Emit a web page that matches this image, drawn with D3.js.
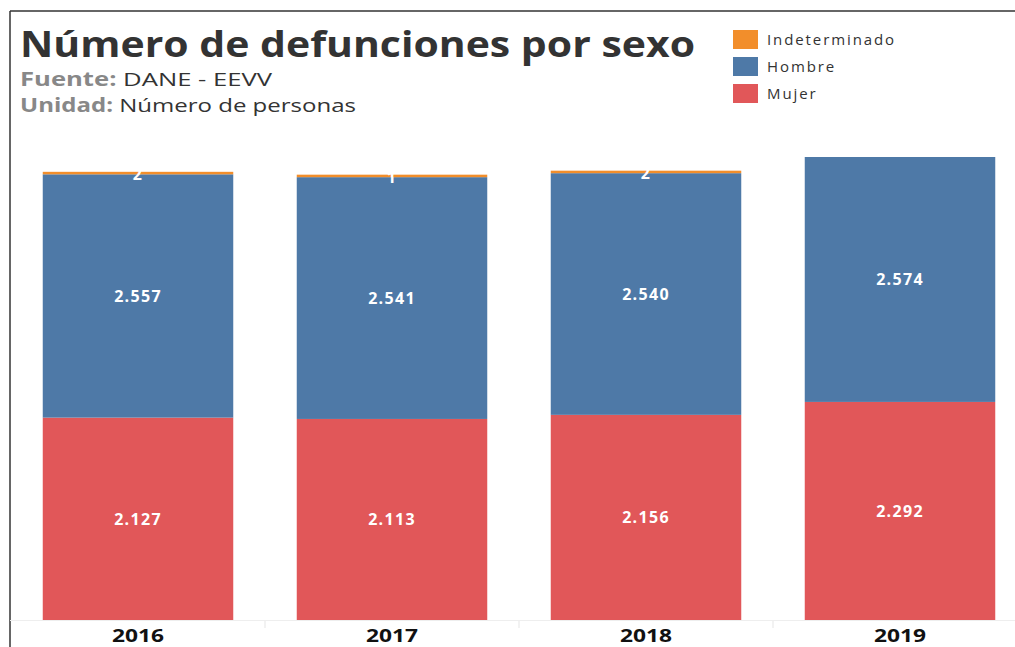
<!DOCTYPE html>
<html>
<head>
<meta charset="utf-8">
<script src="https://cdn.jsdelivr.net/npm/d3@7"></script>
<style>
  body { margin: 0; background: #fff; }
  svg text { font-family: "Open Sans", "Noto Sans", sans-serif; }
</style>
</head>
<body>
<script>
// Data
var years = ["2016", "2017", "2018", "2019"];
var mujer = [2127, 2113, 2156, 2292];
var hombre = [2557, 2541, 2540, 2574];
var indeterminado = [2, 1, 2, 0];
var seriesNames = ["Mujer", "Hombre", "Indeterminado"];
var seriesColors = ["#E15759", "#4E79A7", "#F28E2B"];

var w = 1015, h = 647;

var svg = d3.select("body").append("svg")
  .attr("width", w)
  .attr("height", h);

// table for the stack layout
var rows = years.map(function(y, i){
  return {year: y, Mujer: mujer[i], Hombre: hombre[i], Indeterminado: indeterminado[i]};
});
var stacked = d3.stack().keys(seriesNames)(rows);

var x = d3.scaleBand()
  .domain(years)
  .range([11, 1027])
  .paddingInner(0.25)
  .paddingOuter(0.125);

var totals = rows.map(function(r){ return r.Mujer + r.Hombre + r.Indeterminado; });
var y = d3.scaleLinear()
  .domain([0, d3.max(totals)])
  .range([620, 157]);

var color = d3.scaleOrdinal().domain(seriesNames).range(seriesColors);
var es = d3.formatLocale({decimal: ",", thousands: ".", grouping: [3], currency: ["$", ""]});
var fmt = es.format(",d");

// frame lines
svg.append("line").attr("x1", 10).attr("x2", w).attr("y1", 11).attr("y2", 11)
  .style("stroke", "#333").style("stroke-width", 1.5);
svg.append("line").attr("x1", 10).attr("x2", 10).attr("y1", 11).attr("y2", h)
  .style("stroke", "#333").style("stroke-width", 1.5);

// bars
var layers = svg.selectAll(".layer")
  .data(stacked)
  .enter().append("g")
  .attr("class", "layer")
  .style("fill", function(d){ return color(d.key); });

layers.selectAll("rect")
  .data(function(d){ return d.filter(function(s){ return s[1] - s[0] > 0; }); })
  .enter().append("rect")
  .attr("x", function(d){ return x(d.data.year); })
  .attr("width", x.bandwidth())
  .attr("y", function(d){
    var hh = Math.max(y(d[0]) - y(d[1]), 2.5);
    return y(d[0]) - hh;
  })
  .attr("height", function(d){ return Math.max(y(d[0]) - y(d[1]), 2.5); });

// value labels
layers.selectAll("text")
  .data(function(d){ return d.filter(function(s){ return s[1] - s[0] > 0; }); })
  .enter().append("text")
  .attr("x", function(d){ return x(d.data.year) + x.bandwidth() / 2; })
  .attr("y", function(d){ return (y(d[0]) + y(d[1])) / 2 + 6; })
  .attr("text-anchor", "middle")
  .style("fill", "#fff")
  .style("font-weight", "bold")
  .style("font-size", "16px")
  .style("letter-spacing", "1.3px")
  .text(function(d){ return fmt(d[1] - d[0]); });

// baseline and band dividers
svg.append("line").attr("x1", 10).attr("x2", w).attr("y1", 620.5).attr("y2", 620.5)
  .style("stroke", "#eee").style("stroke-width", 1);
svg.selectAll(".divider")
  .data(years.slice(1))
  .enter().append("line")
  .attr("class", "divider")
  .attr("x1", function(d){ return x(d) - x.step() * x.paddingInner() / 2; })
  .attr("x2", function(d){ return x(d) - x.step() * x.paddingInner() / 2; })
  .attr("y1", 621).attr("y2", 628)
  .style("stroke", "#eee").style("stroke-width", 1.5);

// year labels
svg.selectAll(".year")
  .data(years)
  .enter().append("text")
  .attr("class", "year")
  .attr("x", function(d){ return x(d) + x.bandwidth() / 2; })
  .attr("y", 642)
  .attr("text-anchor", "middle")
  .attr("textLength", 52)
  .attr("lengthAdjust", "spacingAndGlyphs")
  .style("font-weight", "bold")
  .style("font-size", "18px")
  .style("fill", "#111")
  .text(function(d){ return d; });

// title block
svg.append("text")
  .attr("x", 20).attr("y", 57)
  .attr("textLength", 675)
  .attr("lengthAdjust", "spacingAndGlyphs")
  .style("font-size", "35px")
  .style("font-weight", "bold")
  .style("fill", "#333")
  .text("Número de defunciones por sexo");

var fuente = svg.append("text")
  .attr("x", 20).attr("y", 86)
  .attr("textLength", 252)
  .attr("lengthAdjust", "spacingAndGlyphs")
  .style("font-size", "19px");
fuente.append("tspan").style("font-weight", "bold").style("fill", "#888").text("Fuente:");
fuente.append("tspan").style("fill", "#333").text(" DANE - EEVV");

var unidad = svg.append("text")
  .attr("x", 20).attr("y", 112)
  .attr("textLength", 336)
  .attr("lengthAdjust", "spacingAndGlyphs")
  .style("font-size", "19px");
unidad.append("tspan").style("font-weight", "bold").style("fill", "#888").text("Unidad:");
unidad.append("tspan").style("fill", "#333").text(" Número de personas");

// legend
var legendOrder = ["Indeterminado", "Hombre", "Mujer"];
var legend = svg.selectAll(".legend")
  .data(legendOrder)
  .enter().append("g")
  .attr("class", "legend")
  .attr("transform", function(d, i){ return "translate(733," + (30 + i * 27) + ")"; });

legend.append("rect")
  .attr("width", 25).attr("height", 19)
  .style("fill", function(d){ return color(d); });

legend.append("text")
  .attr("x", 34).attr("y", 15)
  .style("font-size", "15px")
  .style("letter-spacing", "1.9px")
  .style("fill", "#333")
  .text(function(d){ return d; });
</script>
</body>
</html>
